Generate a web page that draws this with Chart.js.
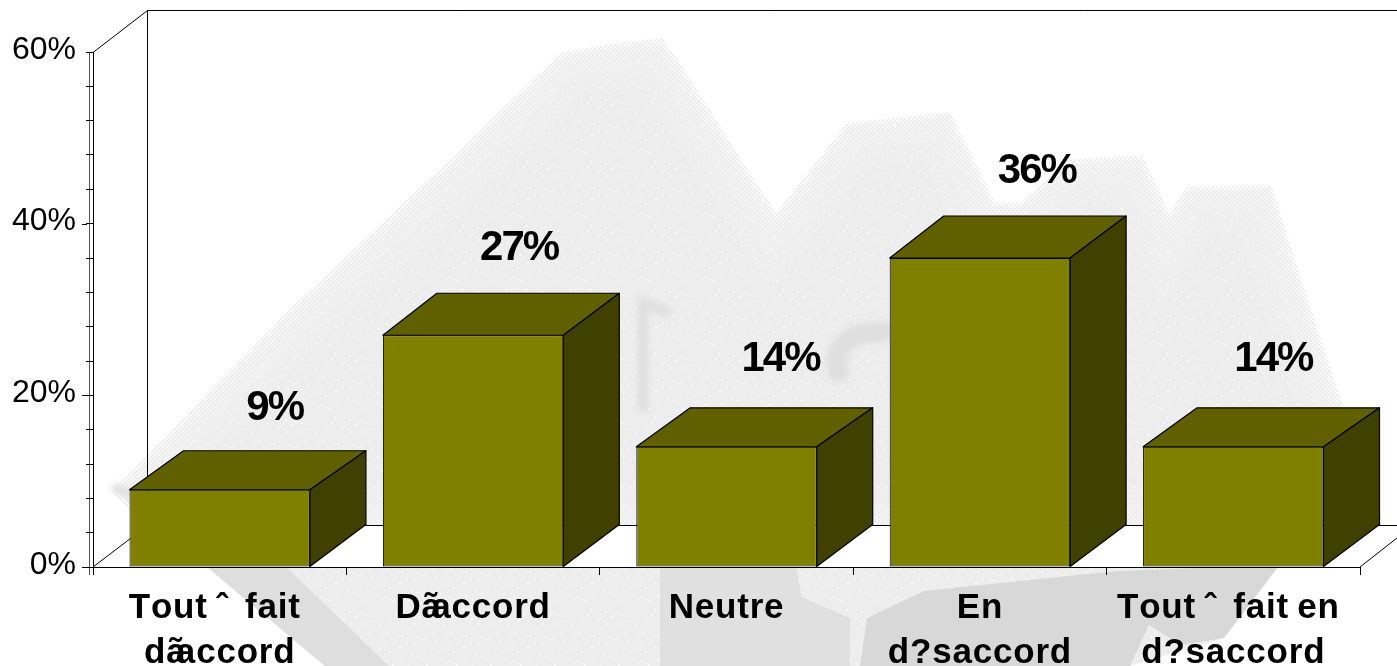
<!DOCTYPE html>
<html>
<head>
<meta charset="utf-8">
<title>Avis</title>
<style>
    html, body { margin: 0; padding: 0; background: #fff; }
    canvas { display: block; }
</style>
<script src="https://cdn.jsdelivr.net/npm/chart.js@4/dist/chart.umd.min.js"></script>
</head>
<body>
<canvas id="myChart" width="1397" height="666"></canvas>
<script>
// Survey answers, share of respondents in percent
const categories = [
    ['Tout ˆ  fait', 'dãaccord'],
    ['Dãaccord'],
    ['Neutre'],
    ['En', 'd?saccord'],
    ['Tout ˆ  fait en', 'd?saccord']
];
const answerShares = [9, 27, 14, 36, 14];
const yTickLabels = [0, 20, 40, 60];

// Small corrections for the value labels above the boxes
const labelNudgeX = [1, -8, 0, 3, -14];
const topRises = [39, 42, 39, 42, 39];

// Box depth
const DEPTH_LEFT = 54;
const DEPTH_RIGHT = 56;
const FLOOR_RISE = 42;
// Back wall depth
const WALL_X = 54;
const WALL_RISE = 42;

const FRONT_COLOR = '#808000';
const TOP_COLOR = '#606000';
const SIDE_COLOR = '#404000';

// Grey scenery behind the plot
const ridgeOutline = [
    [112, 490], [292, 307], [457, 153], [560, 53], [610, 44], [662, 38], [680, 63], [743, 163], [776, 213],
    [847, 123], [950, 112], [995, 203], [1021, 203], [1066, 160], [1142, 155], [1169, 213],
    [1187, 187], [1271, 185], [1294, 257], [1343, 407], [1385, 530], [147, 530], [120, 500]
];
const groundLight = [[207, 567], [1278, 567], [1224, 638], [1130, 666], [325, 666]];
const groundBand = [[207, 567], [286, 567], [389, 666], [325, 666]];
const groundMiddle = [[660, 567], [796, 567], [802, 597], [850, 618], [850, 666], [660, 666]];
const groundRight = [
    [867, 618], [924, 591], [1117, 571], [1224, 567], [1278, 567], [1224, 638],
    [1181, 645], [1149, 625], [1130, 666], [860, 666]
];
const speckCells = [
    [2, 3], [9, 1], [15, 6], [22, 2], [31, 4], [37, 9], [5, 11], [12, 13], [27, 12], [33, 16],
    [1, 20], [8, 24], [18, 19], [24, 23], [36, 26], [4, 31], [14, 33], [21, 29], [29, 35], [38, 37],
    [44, 5], [51, 2], [58, 8], [47, 14], [55, 17], [61, 22], [42, 24], [50, 28], [57, 33], [45, 38],
    [6, 44], [13, 49], [23, 42], [30, 47], [37, 53], [2, 56], [17, 59], [26, 55], [43, 47], [52, 44],
    [59, 50], [48, 57], [40, 61], [33, 60], [11, 38], [62, 60], [20, 12], [35, 40], [54, 39], [7, 62]
];

function tracePolygon(ctx, points) {
    ctx.beginPath();
    points.forEach((p, i) => i === 0 ? ctx.moveTo(p[0], p[1]) : ctx.lineTo(p[0], p[1]));
    ctx.closePath();
}

function makeSpeckPattern(ctx) {
    const tile = document.createElement('canvas');
    tile.width = 64;
    tile.height = 64;
    const t = tile.getContext('2d');
    t.fillStyle = '#f7f7f7';
    speckCells.forEach(c => t.fillRect(c[0], c[1], 2, 2));
    return ctx.createPattern(tile, 'repeat');
}

function makeDitherPattern(ctx, color) {
    const tile = document.createElement('canvas');
    tile.width = 4;
    tile.height = 4;
    const t = tile.getContext('2d');
    t.fillStyle = color;
    t.fillRect(0, 0, 2, 2);
    t.fillRect(2, 2, 2, 2);
    return ctx.createPattern(tile, 'repeat');
}

function drawScenery(ctx) {
    const specks = makeSpeckPattern(ctx);

    ctx.fillStyle = '#ededed';
    tracePolygon(ctx, ridgeOutline);
    ctx.fill();
    ctx.fillStyle = specks;
    ctx.fill();

    // fine dither along the ridge line, fading inwards
    ctx.save();
    ctx.clip();
    ctx.strokeStyle = makeDitherPattern(ctx, '#f6f6f6');
    ctx.globalAlpha = 0.35;
    ctx.lineWidth = 90;
    ctx.stroke();
    ctx.globalAlpha = 0.6;
    ctx.lineWidth = 50;
    ctx.stroke();
    ctx.globalAlpha = 1;
    ctx.lineWidth = 22;
    ctx.stroke();
    ctx.strokeStyle = makeDitherPattern(ctx, '#ffffff');
    ctx.lineWidth = 8;
    ctx.stroke();
    ctx.restore();

    // the soft shapes on the wall
    ctx.save();
    ctx.filter = 'blur(3px)';
    ctx.strokeStyle = '#dedede';
    ctx.lineCap = 'round';
    ctx.lineWidth = 10;
    ctx.beginPath();
    ctx.moveTo(643, 408);
    ctx.lineTo(643, 303);
    ctx.lineTo(666, 312);
    ctx.stroke();
    ctx.lineWidth = 20;
    ctx.beginPath();
    ctx.moveTo(838, 372);
    ctx.quadraticCurveTo(830, 332, 884, 332);
    ctx.stroke();
    ctx.lineWidth = 8;
    ctx.beginPath();
    ctx.moveTo(116, 488);
    ctx.lineTo(130, 494);
    ctx.stroke();
    ctx.restore();

    // ground below the axis
    ctx.fillStyle = '#ededed';
    tracePolygon(ctx, groundLight);
    ctx.fill();
    ctx.fillStyle = specks;
    ctx.fill();
    ctx.fillStyle = '#dedede';
    tracePolygon(ctx, groundBand);
    ctx.fill();
    ctx.fillStyle = '#e0e0e0';
    tracePolygon(ctx, groundMiddle);
    ctx.fill();
    ctx.fillStyle = '#d8d8d8';
    tracePolygon(ctx, groundRight);
    ctx.fill();
}

// White room behind the boxes: floor and back wall edges
const roomPlugin = {
    id: 'room',
    beforeDraw(chart) {
        const ctx = chart.ctx;
        const a = chart.chartArea;
        const W = chart.width;
        const floorY = a.bottom - WALL_RISE;
        const wallLeft = a.left + WALL_X;

        ctx.save();
        ctx.fillStyle = '#fff';
        ctx.fillRect(0, 0, W, chart.height);
        drawScenery(ctx);

        // floor
        ctx.fillStyle = '#fff';
        tracePolygon(ctx, [[a.left, a.bottom], [wallLeft, floorY], [W, floorY], [W, a.bottom - 29], [a.right, a.bottom]]);
        ctx.fill();

        ctx.strokeStyle = '#000';
        ctx.lineWidth = 1;
        ctx.beginPath();
        ctx.moveTo(a.left, a.top + 0.5);
        ctx.lineTo(wallLeft + 0.5, a.top - WALL_RISE + 0.5);
        ctx.lineTo(W, a.top - WALL_RISE + 0.5);
        ctx.moveTo(wallLeft + 0.5, a.top - WALL_RISE + 0.5);
        ctx.lineTo(wallLeft + 0.5, floorY + 0.5);
        ctx.lineTo(W, floorY + 0.5);
        ctx.moveTo(a.left, a.bottom);
        ctx.lineTo(wallLeft + 0.5, floorY + 0.5);
        ctx.moveTo(a.right, a.bottom);
        ctx.lineTo(W, a.bottom - 29);
        ctx.stroke();

        // second axis rule, left of the wall edge
        ctx.strokeStyle = '#555';
        ctx.beginPath();
        ctx.moveTo(a.left - 3.5, a.top);
        ctx.lineTo(a.left - 3.5, a.bottom + 8);
        ctx.stroke();

        // labelled ticks reach further out than the others
        const yScale = chart.scales.y;
        ctx.strokeStyle = '#000';
        ctx.beginPath();
        yTickLabels.filter(v => v < yScale.max).forEach(v => {
            const y = Math.round(yScale.getPixelForValue(v)) + 0.5;
            ctx.moveTo(a.left - 11, y);
            ctx.lineTo(a.left - 6, y);
        });
        ctx.stroke();
        ctx.restore();
    }
};

// Top and side faces of each box, then the value above it
const boxPlugin = {
    id: 'boxes',
    beforeDatasetsDraw(chart) {
        const ctx = chart.ctx;
        const bars = chart.getDatasetMeta(0).data;
        ctx.save();
        ctx.strokeStyle = '#000';
        ctx.lineWidth = 1.2;
        ctx.lineJoin = 'round';
        bars.forEach((bar, i) => {
            const half = bar.width / 2;
            const left = bar.x - half;
            const right = bar.x + half;
            const rise = topRises[i];
            tracePolygon(ctx, [[left, bar.y], [left + DEPTH_LEFT, bar.y - rise], [right + DEPTH_RIGHT, bar.y - rise], [right, bar.y]]);
            ctx.fillStyle = TOP_COLOR;
            ctx.fill();
            ctx.stroke();
            tracePolygon(ctx, [[right, bar.y], [right + DEPTH_RIGHT, bar.y - rise], [right + DEPTH_RIGHT, bar.base - FLOOR_RISE], [right, bar.base]]);
            ctx.fillStyle = SIDE_COLOR;
            ctx.fill();
            ctx.stroke();
        });
        ctx.restore();
    },
    afterDatasetsDraw(chart) {
        const ctx = chart.ctx;
        const bars = chart.getDatasetMeta(0).data;
        ctx.save();
        ctx.fillStyle = '#000';
        ctx.font = 'bold 42px "Liberation Sans"';
        ctx.letterSpacing = '-2px';
        ctx.textAlign = 'center';
        ctx.textBaseline = 'middle';
        bars.forEach((bar, i) => {
            const lift = answerShares[i] < 10 ? 81 : 87;
            ctx.fillText(answerShares[i] + '%', bar.x + DEPTH_LEFT + labelNudgeX[i], bar.y - lift);
        });
        ctx.restore();
    }
};

// Category names, set letter by letter: the accent letter collides with the next one
function drawSpacedLine(ctx, text, centerX, y) {
    const GAP = 0.8;
    const chars = Array.from(text);
    const step = ch => {
        const w = ctx.measureText(ch).width;
        if (ch === 'ã') return w * 0.5;
        if (ch === ' ') return w * 0.85;
        return w + GAP;
    };
    let width = 0;
    chars.forEach(ch => { width += step(ch); });
    let x = centerX - width / 2;
    chars.forEach(ch => {
        ctx.fillText(ch, x, y);
        x += step(ch);
    });
}

const categoryLabelPlugin = {
    id: 'categoryLabels',
    afterDraw(chart) {
        const ctx = chart.ctx;
        const xScale = chart.scales.x;
        ctx.save();
        ctx.fillStyle = '#000';
        ctx.font = 'bold 35px "Liberation Sans"';
        ctx.textAlign = 'left';
        ctx.textBaseline = 'alphabetic';
        categories.forEach((lines, i) => {
            lines.forEach((line, n) => {
                // first lines of the "Tout" labels sit a little left of centre
                const shift = n === 0 && line.startsWith('Tout') ? -5 : 0;
                drawSpacedLine(ctx, line, xScale.getPixelForTick(i) + shift, 618 + n * 45);
            });
        });
        ctx.restore();
    }
};

const ctx = document.getElementById('myChart');

const myChart = new Chart(ctx, {
    type: 'bar',
    data: {
        labels: categories,
        datasets: [{
            data: answerShares,
            backgroundColor: FRONT_COLOR,
            borderColor: '#000',
            borderWidth: 1,
            borderSkipped: false,
            barPercentage: 0.712,
            categoryPercentage: 1
        }]
    },
    plugins: [roomPlugin, boxPlugin, categoryLabelPlugin],
    options: {
        responsive: false,
        animation: false,
        devicePixelRatio: 1,
        layout: { padding: { left: 0, top: 52, right: 37, bottom: 0 } },
        plugins: {
            legend: { display: false },
            title: { display: false },
            tooltip: { enabled: false }
        },
        scales: {
            x: {
                afterFit(scale) { scale.height = 99; },
                ticks: { display: false },
                grid: { drawOnChartArea: false, drawTicks: true, tickLength: 8, color: '#000' },
                border: { color: '#000', width: 1 }
            },
            y: {
                min: 0,
                max: 60,
                afterFit(scale) { scale.width = 93; },
                ticks: {
                    stepSize: 4,
                    autoSkip: false,
                    padding: 10,
                    labelOffset: -2,
                    color: '#000',
                    font: { family: '"Liberation Sans"', size: 32 },
                    callback: value => yTickLabels.includes(value) ? value + '%' : ''
                },
                grid: { drawOnChartArea: false, drawTicks: true, tickLength: 7, color: '#000' },
                border: { color: '#000', width: 1 }
            }
        }
    }
});
</script>
</body>
</html>
